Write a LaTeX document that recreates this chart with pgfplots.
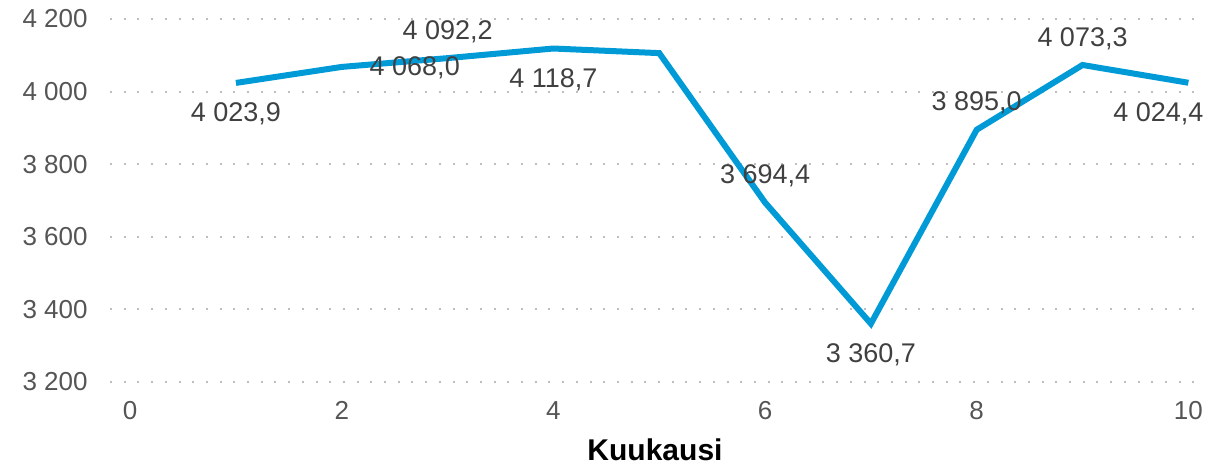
\documentclass[border=0pt]{standalone}
\usepackage{fontspec}
\setmainfont{Liberation Sans}
\usepackage{pgfplots}
\pgfplotsset{compat=1.18}
\definecolor{linecol}{RGB}{0,155,215}
\definecolor{tickcol}{RGB}{85,85,85}
\definecolor{labcol}{RGB}{64,64,64}
\definecolor{gridcol}{RGB}{190,190,190}
\pgfkeys{/pgf/number format/assume math mode=true}
\begin{document}
\begin{tikzpicture}
\begin{axis}[
  name=ax,
  scale only axis,
  width=545pt, height=181.5pt,
  xmin=-0.19, xmax=10.11,
  ymin=3200, ymax=4200,
  xtick={0,2,4,6,8,10},
  ytick={3200,3400,3600,3800,4000,4200},
  axis line style={draw=none},
  major tick length=0pt,
  ymajorgrids,
  grid style={gridcol, line width=1pt, dash pattern=on 1pt off 5.85pt},
  ticklabel style={font=\fontsize{13}{15}\selectfont, text=tickcol, inner sep=0pt},
  yticklabel style={anchor=east, xshift=-11pt,
    /pgf/number format/.cd, fixed, precision=0, 1000 sep={\ }, assume math mode=true},
  xticklabel style={anchor=north, yshift=-9.5pt,
    /pgf/number format/.cd, assume math mode=true},
  xlabel={Kuukausi},
  xlabel style={at={(axis description cs:0.5,0)}, anchor=center, yshift=-34pt,
    font=\fontsize{15}{17}\selectfont\bfseries, text=black},
  clip=false,
  every node near coord/.append style={font=\fontsize{13.5}{16}\selectfont, text=labcol, inner sep=0pt},
  nodes near coords={\pgfmathprintnumber[fixed,fixed zerofill,precision=1,use comma,1000 sep={\ },assume math mode=true]{\pgfplotspointmeta}},
]
\addplot[linecol, line width=3pt, mark=none, nodes near coords={}] coordinates {
  (1,4023.9) (2,4068.0) (3,4092.2) (4,4118.7) (5,4106) (6,3694.4)
  (7,3360.7) (8,3895.0) (9,4073.3) (10,4024.4)
};
% labels below
\addplot[draw=none, mark=none, every node near coord/.append style={anchor=center, yshift=-15.5pt}]
  coordinates {(1,4023.9) (4,4118.7) (7,3360.7)};
\addplot[draw=none, mark=none, every node near coord/.append style={anchor=center, yshift=-15.5pt, xshift=-15pt}]
  coordinates {(10,4024.4)};
% labels above
\addplot[draw=none, mark=none, every node near coord/.append style={anchor=center, yshift=13.25pt}]
  coordinates {(3,4092.2) (6,3694.4) (8,3895.0) (9,4073.3)};
% label right
\addplot[draw=none, mark=none, every node near coord/.append style={anchor=center, xshift=36.5pt, yshift=-0.5pt}]
  coordinates {(2,4068.0)};
\end{axis}
\path ([xshift=-55pt,yshift=-41.5pt]ax.south west) rectangle ([xshift=12.5pt,yshift=9.5pt]ax.north east);
\end{tikzpicture}
\end{document}
